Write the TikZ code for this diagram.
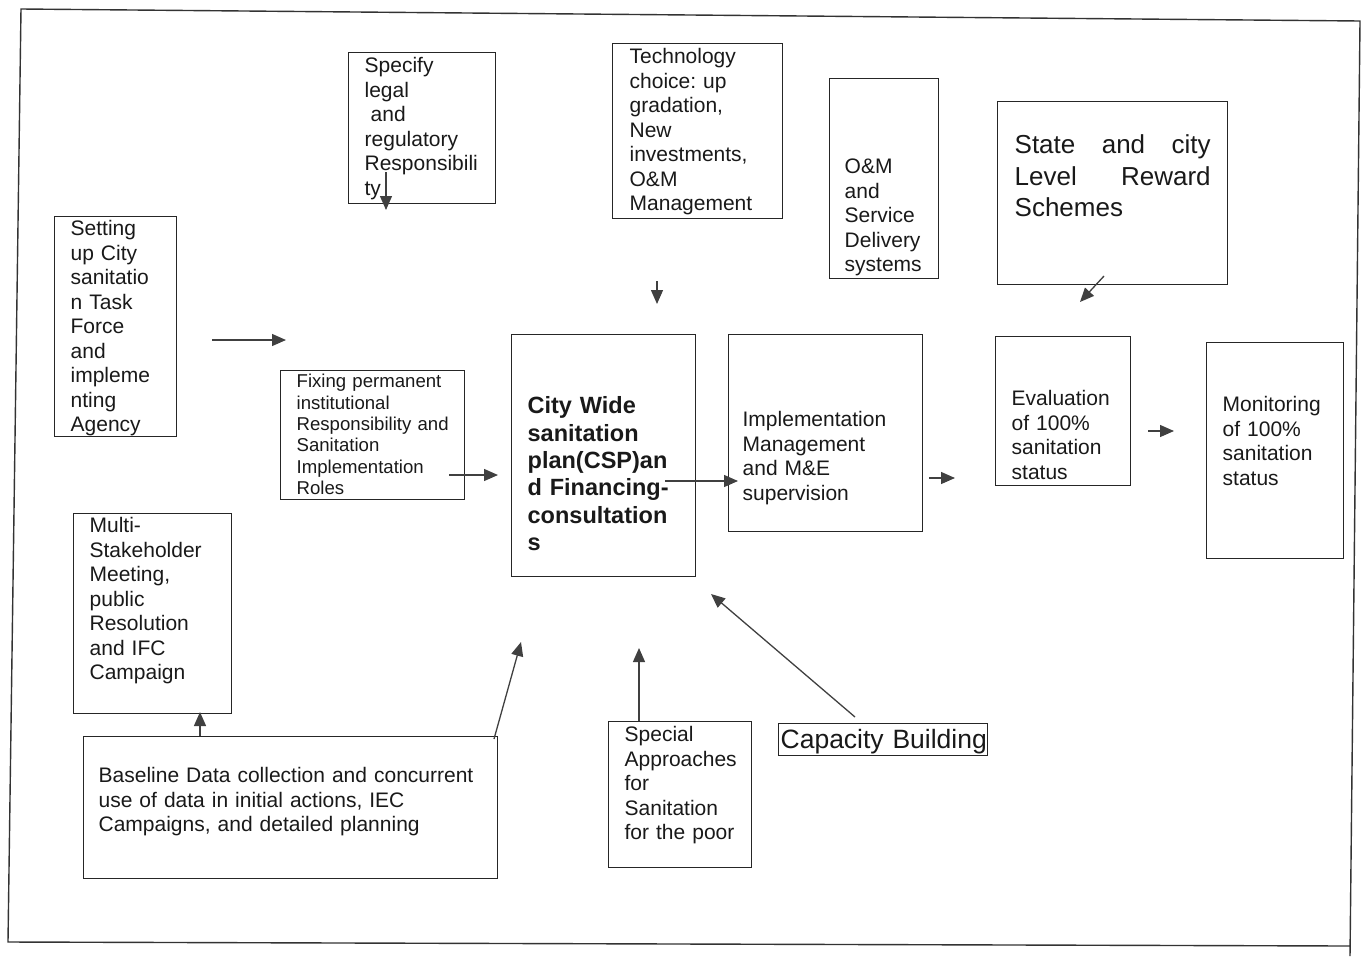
\documentclass[tikz,border=0pt]{standalone}
\usepackage{fontspec}
\setmainfont{Liberation Sans}
\usetikzlibrary{arrows.meta}
\hyphenpenalty=10000
\exhyphenpenalty=10000
\frenchspacing
\begin{document}
\begin{tikzpicture}[x=1pt, y=-1pt,
  box/.style={draw=black!85, line width=1.3pt, anchor=north west, inner ysep=0pt,
    align=left, text=black!90, font=\fontsize{21}{24.5}\selectfont},
  arr/.style={draw=black!75, line width=1.3pt, -{Triangle[length=14pt,width=12pt]}}]
\useasboundingbox (0,0) rectangle (1367,956);
\draw[line width=1.4pt, black!80] (1350,956) -- (1360,21) -- (21,9) -- (8,942) -- (1350,946);

\node[box, inner xsep=16pt, text width=115pt, text height=20pt, text depth=131pt] (legal) at (348,52)
  {Specify\\legal\\\hspace*{6pt}and\\regulatory\\Responsibili\\ty};
\node[box, inner xsep=17pt, text width=136pt, text height=20pt, text depth=155pt] (tech) at (612,43)
  {Technology\\choice: up\\gradation,\\New\\investments,\\O\&M\\Management};
\node[box, inner xsep=15pt, text width=79pt, text height=95pt, text depth=105pt] (om) at (829,78)
  {O\&M\\and\\Service\\Delivery\\systems};
\node[box, inner xsep=17pt, text width=196pt, text height=52pt, text depth=131pt,
  font=\fontsize{26}{31.5}\selectfont] (reward) at (997,101)
  {State\hfill and\hfill city\\Level\hfill Reward\\Schemes};
\node[box, inner xsep=16pt, text width=90pt, text height=19pt, text depth=201pt] (task) at (54,216)
  {Setting\\up City\\sanitatio\\n Task\\Force\\and\\impleme\\nting\\Agency};
\node[box, inner xsep=16pt, text width=152pt, text height=17pt, text depth=112pt,
  font=\fontsize{18.6}{21.4}\selectfont] (roles) at (280,370)
  {Fixing permanent\\institutional\\\mbox{Responsibility and}\\Sanitation\\Implementation\\Roles};
\node[box, inner xsep=16pt, text width=152pt, text height=79pt, text depth=163pt,
  font=\fontsize{23.5}{27.4}\selectfont\bfseries] (csp) at (511,334)
  {City Wide\\sanitation\\plan(CSP)an\\d Financing-\\consultation\\s};
\node[box, inner xsep=14pt, text width=166pt, text height=92pt, text depth=105pt] (impl) at (728,334)
  {Implementation\\Management\\and M\&E\\supervision};
\node[box, inner xsep=16pt, text width=103pt, text height=69pt, text depth=80pt] (eval) at (995,336)
  {Evaluation\\of 100\%\\sanitation\\status};
\node[box, inner xsep=16pt, text width=105pt, text height=69pt, text depth=147pt] (monit) at (1206,342)
  {Monitoring\\of 100\%\\sanitation\\status};
\node[box, inner xsep=16pt, text width=126pt, text height=19pt, text depth=181pt] (multi) at (73,513)
  {Multi-\\Stakeholder\\Meeting,\\public\\Resolution\\and IFC\\Campaign};
\node[box, inner xsep=15pt, text width=384pt, text height=46pt, text depth=96pt] (baseline) at (83,736)
  {\mbox{Baseline Data collection and concurrent}\\use of data in initial actions, IEC\\Campaigns, and detailed planning};
\node[box, inner xsep=16pt, text width=111pt, text height=20pt, text depth=126pt] (poor) at (608,721)
  {Special\\Approaches\\for\\Sanitation\\\mbox{for the poor}};
\node[box, inner xsep=2pt, text width=205pt, text height=25pt, text depth=7pt,
  font=\fontsize{26.5}{30}\selectfont] (capacity) at (778,723) {\mbox{Capacity Building}};

\coordinate (lg1) at (386,172);
\coordinate (lg2) at (386,210);
\coordinate (tc1) at (657,281);
\coordinate (tc2) at (657,304);
\coordinate (rw1) at (1104,276);
\coordinate (rw2) at (1080,302);
\coordinate (tk1) at (212,340);
\coordinate (tk2) at (286,340);
\coordinate (ro1) at (449,475);
\coordinate (ro2) at (498,475);
\coordinate (cp1) at (665,481);
\coordinate (cp2) at (738,481);
\coordinate (im1) at (929,478);
\coordinate (im2) at (955,478);
\coordinate (ev1) at (1148,431);
\coordinate (ev2) at (1174,431);
\coordinate (bl1) at (200,736);
\coordinate (bl2) at (200,712);
\coordinate (bl3) at (494,739);
\coordinate (bl4) at (521,642);
\coordinate (sp1) at (639,721);
\coordinate (sp2) at (639,648);
\coordinate (cb1) at (855,717);
\coordinate (cb2) at (711,594);

\draw[arr] (lg1) -- (lg2);
\draw[arr] (tc1) -- (tc2);
\draw[arr] (rw1) -- (rw2);
\draw[arr] (tk1) -- (tk2);
\draw[arr] (ro1) -- (ro2);
\draw[arr] (cp1) -- (cp2);
\draw[arr] (im1) -- (im2);
\draw[arr] (ev1) -- (ev2);
\draw[arr] (bl1) -- (bl2);
\draw[arr] (bl3) -- (bl4);
\draw[arr] (sp1) -- (sp2);
\draw[arr] (cb1) -- (cb2);
\end{tikzpicture}
\end{document}
